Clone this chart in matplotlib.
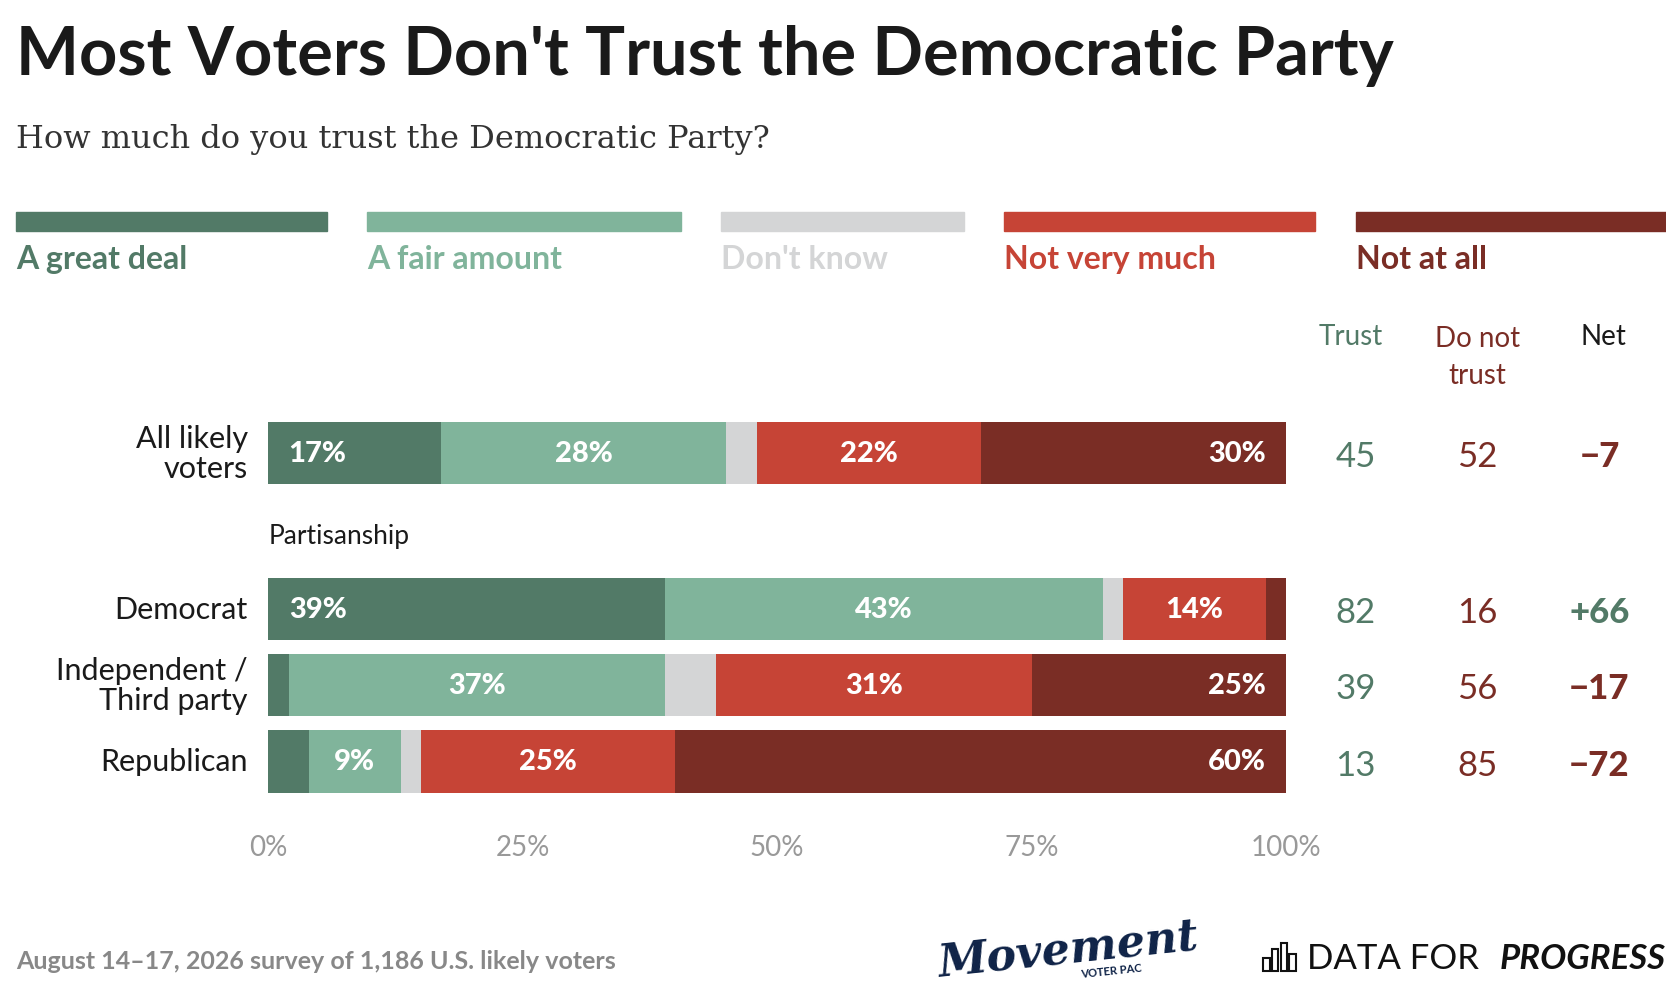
import matplotlib
matplotlib.use("Agg")
import matplotlib.pyplot as plt
from matplotlib.patches import Rectangle

# ---- data ----
CATEGORIES = ["A great deal", "A fair amount", "Don't know", "Not very much", "Not at all"]
COLORS = ["#527A67", "#80B49B", "#D4D5D6", "#C64436", "#7A2D25"]

ROWS = ["All likely\nvoters", "Democrat", "Independent /\nThird party", "Republican"]
GREAT = [17, 39, 2, 4]
FAIR = [28, 43, 37, 9]
DK = [3, 2, 5, 2]
NOTMUCH = [22, 14, 31, 25]
NOTALL = [30, 2, 25, 60]
TRUST = [45, 82, 39, 13]
DISTRUST = [52, 16, 56, 85]
NET = ["\u22127", "+66", "\u221217", "\u221272"]
XTICKS = [0, 25, 50, 75, 100]

W, H = 1552, 935          # layout measured in reference pixels
def fx(x): return x / W
def fy(y): return 1 - y / H

FONT = "Lato"
fig = plt.figure(figsize=(16.66, 10.04), dpi=100)

fig.text(fx(15), fy(52), "Most Voters Don't Trust the Democratic Party", fontsize=48,
         fontweight="bold", family=FONT, color="#1a1a1a", va="center")
fig.text(fx(15), fy(130), "How much do you trust the Democratic Party?", fontsize=23,
         family="DejaVu Serif", color="#333333", va="center")

# legend bars
leg_x = [(15, 305), (342, 634), (672, 898), (935, 1225), (1263, 1552)]
for (x0, x1), cat, col in zip(leg_x, CATEGORIES, COLORS):
    fig.patches.append(Rectangle((fx(x0), fy(216)), fx(x1) - fx(x0), fy(198) - fy(216),
                                 transform=fig.transFigure, color=col))
    fig.text(fx(x0), fy(242), cat, fontsize=23, fontweight="bold", family=FONT,
             color=col, va="center")

# bars
ax = fig.add_axes([fx(250), fy(750), fx(1198) - fx(250), fy(380) - fy(750)])
ax.set_xlim(0, 100)
ax.set_ylim(750, 380)
ax.axis("off")
ycent = [423, 568, 639, 710]
series = [GREAT, FAIR, DK, NOTMUCH, NOTALL]
for i, y in enumerate(ycent):
    left = 0
    for k, s in enumerate(series):
        v = s[i]
        ax.barh(y, v, left=left, height=58, color=COLORS[k], linewidth=0)
        if v >= 9 and k != 2:
            if k == 0:
                x, ha = left + 2, "left"
            elif k == 4:
                x, ha = left + v - 2, "right"
            else:
                x, ha = left + v / 2, "center"
            ax.text(x, y, f"{v}%", color="white", fontsize=21, fontweight="black",
                    family=FONT, va="center", ha=ha)
        left += v
    fig.text(fx(231), fy(y), ROWS[i], fontsize=22, family=FONT, color="#1a1a1a",
             ha="right", va="center", linespacing=1.1)
    fig.text(fx(1263), fy(y + 3), str(TRUST[i]), fontsize=25, family=FONT,
             color="#527A67", ha="center", va="center")
    fig.text(fx(1376), fy(y + 3), str(DISTRUST[i]), fontsize=25, family=FONT,
             color="#7A2D25", ha="center", va="center")
    fig.text(fx(1490), fy(y + 3), NET[i], fontsize=25, family=FONT, fontweight="black",
             color="#527A67" if NET[i].startswith("+") else "#7A2D25",
             ha="center", va="center")

fig.text(fx(250), fy(500), "Partisanship", fontsize=19, family=FONT, color="#1a1a1a", va="center")

for t in XTICKS:
    ax.text(t, 790, f"{t}%", fontsize=20, family=FONT, color="#999999",
            ha="center", va="center", clip_on=False)

fig.text(fx(1258), fy(314), "Trust", fontsize=20, family=FONT, color="#527A67", ha="center", va="center")
fig.text(fx(1376), fy(333), "Do not\ntrust", fontsize=20, family=FONT, color="#7A2D25",
         ha="center", va="center", linespacing=1.5)
fig.text(fx(1494), fy(314), "Net", fontsize=20, family=FONT, color="#1a1a1a", ha="center", va="center")

fig.text(fx(15), fy(895), "August 14\u201317, 2026 survey of 1,186 U.S. likely voters", fontsize=18,
         fontweight="bold", family=FONT, color="#888888", va="center")
fig.text(fx(995), fy(885), "Movement", fontsize=32, fontweight="heavy", fontstyle="italic",
         family="DejaVu Serif", color="#0F2347", ha="center", va="center", rotation=6)
fig.text(fx(1035), fy(905), "VOTER PAC", fontsize=8, fontweight="bold", family=FONT,
         color="#0F2347", ha="center", va="center", rotation=6)
fig.text(fx(1218), fy(893), "DATA FOR", fontsize=25, family=FONT, color="#111111", va="center")
fig.text(fx(1552), fy(893), "PROGRESS", fontsize=25, family=FONT, fontweight="bold",
         fontstyle="italic", color="#111111", va="center", ha="right")
# small bar icon next to the logo
for j, hgt in enumerate([12, 20, 26, 16]):
    fig.patches.append(Rectangle((fx(1177 + j * 8), fy(905)), fx(6), hgt / H,
                                 transform=fig.transFigure, fill=False, ec="#111111", lw=1.5))

fig.savefig("out.png", dpi=100, facecolor="white")
